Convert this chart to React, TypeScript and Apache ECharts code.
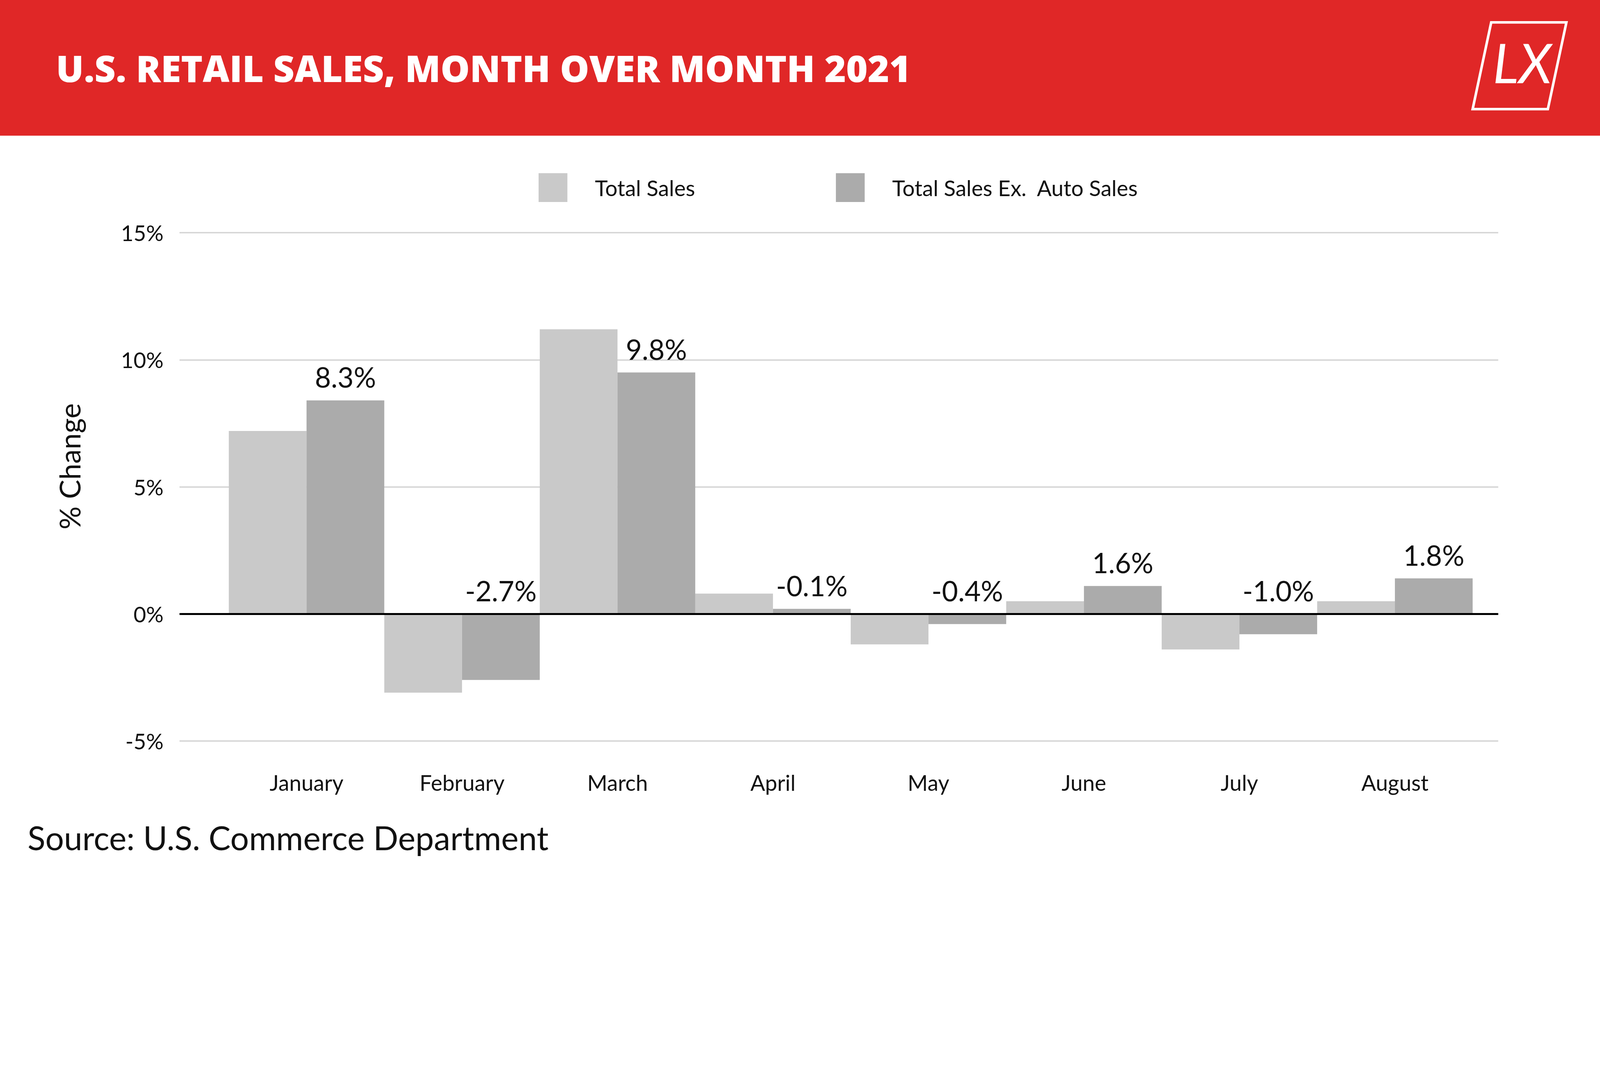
import React, { useEffect, useRef } from 'react';
import * as echarts from 'echarts';

const months = ['January', 'February', 'March', 'April', 'May', 'June', 'July', 'August'];
const totalSales = [7.2, -3.1, 11.2, 0.8, -1.2, 0.5, -1.4, 0.5];
const exAutoSales = [8.4, -2.6, 9.5, 0.2, -0.4, 1.1, -0.8, 1.4];
const exAutoLabels = ['8.3%', '-2.7%', '9.8%', '-0.1%', '-0.4%', '1.6%', '-1.0%', '1.8%'];
const yTicks = [-5, 0, 5, 10, 15];

const App: React.FC = () => {
  const chartRef = useRef<HTMLDivElement>(null);

  useEffect(() => {
    document.body.style.margin = '0';
    document.body.style.overflow = 'hidden';
    if (!chartRef.current) return;
    const s = window.innerWidth / 5000;
    chartRef.current.style.height = `${2759 * s}px`;
    const chart = echarts.init(chartRef.current, null, { renderer: 'svg' });
    const k = (v: number) => v * s;
    const font = 'Lato, "Open Sans", sans-serif';
    const yMin = yTicks[0];
    const yMax = yTicks[yTicks.length - 1];

    chart.setOption({
      animation: false,
      backgroundColor: '#ffffff',
      textStyle: { fontFamily: font },
      graphic: [
        { type: 'rect', left: 0, top: 0, shape: { width: k(5000), height: k(424) }, style: { fill: '#e02727' } },
        {
          type: 'text', left: k(175), top: k(155),
          style: { text: 'U.S. RETAIL SALES, MONTH OVER MONTH 2021', fill: '#fff', font: `800 ${k(115)}px "Open Sans", sans-serif` },
        },
        {
          type: 'polygon',
          shape: { points: [[k(4660), k(70)], [k(4895), k(70)], [k(4837), k(341)], [k(4602), k(341)]] },
          style: { fill: 'none', stroke: '#fff', lineWidth: k(8) },
        },
        {
          type: 'text', left: k(4665), top: k(110),
          style: { text: 'LX', fill: '#fff', font: `italic 400 ${k(170)}px ${font}` },
        },
        {
          type: 'text', x: k(217), y: k(1457), rotation: Math.PI / 2,
          style: { text: '% Change', fill: '#111', font: `400 ${k(90)}px ${font}`, align: 'center', verticalAlign: 'middle' },
        },
        {
          type: 'text', left: k(86), top: k(2565),
          style: { text: 'Source: U.S. Commerce Department', fill: '#111', font: `400 ${k(103)}px ${font}` },
        },
      ],
      legend: {
        top: k(535),
        left: k(1677),
        itemWidth: k(90),
        itemHeight: k(90),
        itemGap: k(440),
        icon: 'rect',
        textStyle: { fontSize: k(68), color: '#111', padding: [0, 0, 0, k(80)] },
        data: ['Total Sales', 'Total Sales Ex.  Auto Sales'],
      },
      grid: [
        { left: k(561), right: k(318), top: k(727), height: k(1588) },
        { left: k(715), right: k(398), top: k(727), height: k(1588) },
      ],
      xAxis: [
        { type: 'value', gridIndex: 0, show: false, min: 0, max: 1 },
        {
          type: 'category',
          gridIndex: 1,
          data: months,
          axisLine: { show: false },
          axisTick: { show: false },
          axisLabel: { fontSize: k(68), color: '#111', margin: k(95) },
        },
      ],
      yAxis: [
        {
          type: 'value',
          gridIndex: 0,
          min: yMin,
          max: yMax,
          interval: 5,
          axisLine: { show: false },
          axisTick: { show: false },
          axisLabel: { fontSize: k(68), color: '#111', margin: k(50), formatter: '{value}%' },
          splitLine: { lineStyle: { color: '#d4d4d4', width: k(4) } },
        },
        { type: 'value', gridIndex: 1, min: yMin, max: yMax, interval: 5, show: false, splitLine: { show: false } },
      ],
      series: [
        {
          name: 'Total Sales',
          type: 'bar',
          xAxisIndex: 1,
          yAxisIndex: 1,
          data: totalSales,
          itemStyle: { color: '#c9c9c9' },
          barGap: '0%',
          barCategoryGap: '0%',
        },
        {
          name: 'Total Sales Ex.  Auto Sales',
          type: 'bar',
          xAxisIndex: 1,
          yAxisIndex: 1,
          data: exAutoSales,
          itemStyle: { color: '#ababab' },
          label: {
            show: true,
            position: 'top',
            distance: k(30),
            fontSize: k(87),
            color: '#111',
            formatter: (p: any) => exAutoLabels[p.dataIndex],
          },
        },
        {
          name: 'zero',
          type: 'line',
          xAxisIndex: 0,
          yAxisIndex: 0,
          data: [],
          markLine: {
            symbol: 'none',
            silent: true,
            label: { show: false },
            lineStyle: { color: '#000', width: k(6), type: 'solid' },
            data: [{ yAxis: 0 }],
          },
        },
      ],
    });

    return () => chart.dispose();
  }, []);

  return <div ref={chartRef} style={{ width: '100vw', height: '100vh' }} />;
};

export default App;
